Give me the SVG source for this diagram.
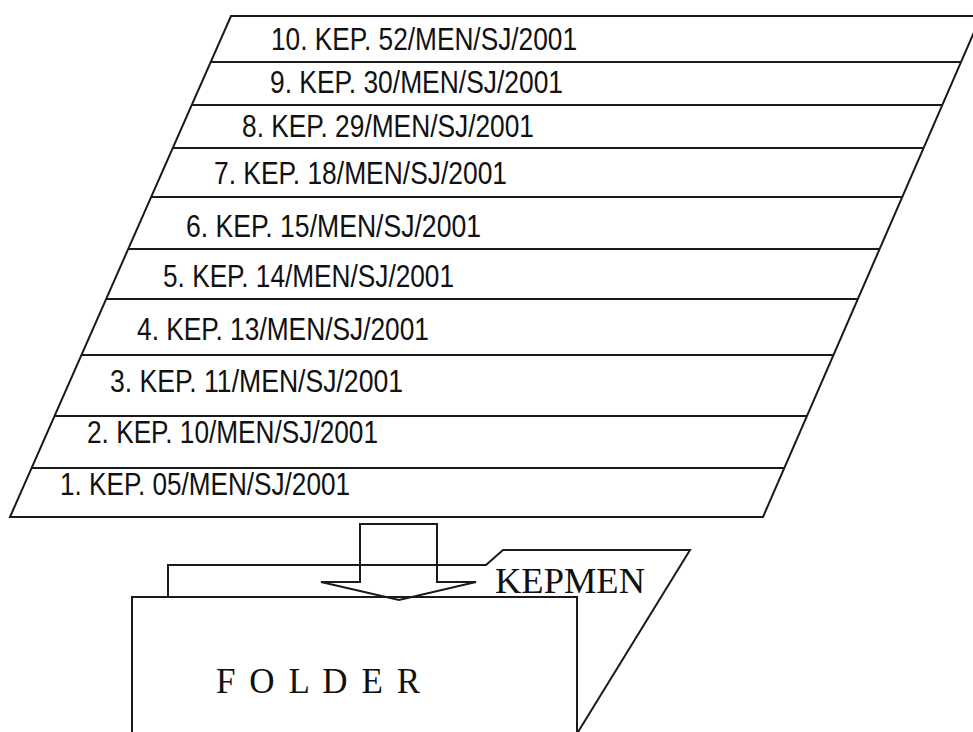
<svg xmlns="http://www.w3.org/2000/svg" width="973" height="732" viewBox="0 0 973 732">
<style>
.ln{fill:none;stroke:#1a1a1a;stroke-width:2;stroke-linejoin:miter}
.rowt{font-family:"Liberation Sans Narrow","Liberation Sans",Arial,sans-serif;font-size:31px;fill:#111}
.ser{font-family:"Liberation Serif","Times New Roman",serif;font-size:35px;fill:#111}
</style>
<rect width="973" height="732" fill="#fff"/>
<g id="kepmen-list">
<polygon class="ln" points="231,16 981,16 763,517 10,517"/>
<line class="ln" x1="210.7" y1="62" x2="961" y2="62"/>
<line class="ln" x1="191.7" y1="105" x2="942.3" y2="105"/>
<line class="ln" x1="172.8" y1="148" x2="923.6" y2="148"/>
<line class="ln" x1="151.2" y1="197" x2="902.2" y2="197"/>
<line class="ln" x1="128.2" y1="249" x2="879.6" y2="249"/>
<line class="ln" x1="106.2" y1="299" x2="857.9" y2="299"/>
<line class="ln" x1="81.5" y1="355" x2="833.5" y2="355"/>
<line class="ln" x1="54.6" y1="416" x2="807" y2="416"/>
<line class="ln" x1="31.6" y1="468" x2="784.3" y2="468"/>
<g id="row10"><text class="rowt" x="271" y="50" textLength="306" lengthAdjust="spacingAndGlyphs">10. KEP. 52/MEN/SJ/2001</text></g>
<g id="row9"><text class="rowt" x="270" y="93" textLength="293" lengthAdjust="spacingAndGlyphs">9. KEP. 30/MEN/SJ/2001</text></g>
<g id="row8"><text class="rowt" x="242" y="137" textLength="292" lengthAdjust="spacingAndGlyphs">8. KEP. 29/MEN/SJ/2001</text></g>
<g id="row7"><text class="rowt" x="214" y="184" textLength="293" lengthAdjust="spacingAndGlyphs">7. KEP. 18/MEN/SJ/2001</text></g>
<g id="row6"><text class="rowt" x="186" y="237" textLength="295" lengthAdjust="spacingAndGlyphs">6. KEP. 15/MEN/SJ/2001</text></g>
<g id="row5"><text class="rowt" x="163" y="287" textLength="291" lengthAdjust="spacingAndGlyphs">5. KEP. 14/MEN/SJ/2001</text></g>
<g id="row4"><text class="rowt" x="137" y="340" textLength="292" lengthAdjust="spacingAndGlyphs">4. KEP. 13/MEN/SJ/2001</text></g>
<g id="row3"><text class="rowt" x="110" y="392" textLength="293" lengthAdjust="spacingAndGlyphs">3. KEP. 11/MEN/SJ/2001</text></g>
<g id="row2"><text class="rowt" x="87" y="443" textLength="291" lengthAdjust="spacingAndGlyphs">2. KEP. 10/MEN/SJ/2001</text></g>
<g id="row1"><text class="rowt" x="60" y="495" textLength="290" lengthAdjust="spacingAndGlyphs">1. KEP. 05/MEN/SJ/2001</text></g>
</g>
<g id="folder">
<polyline class="ln" points="168,597 168,565 486,565 503,550 690,550 578,732"/>
<polyline class="ln" points="132,740 132,597 577,597 577,740"/>
<text class="ser" x="495" y="593" textLength="150" lengthAdjust="spacingAndGlyphs">KEPMEN</text>
<text class="ser" x="216" y="693" textLength="204" lengthAdjust="spacing">F O L D E R</text>
</g>
<g id="connectors">
<polygon class="ln" points="360,524 437,524 437,582 476,582 399,600 321,582 360,582"/>
</g>
</svg>
